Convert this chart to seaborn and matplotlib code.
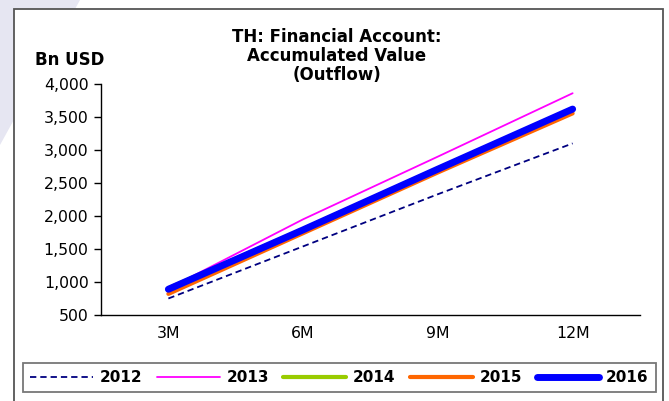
import matplotlib
matplotlib.use("Agg")
import matplotlib.pyplot as plt
import matplotlib.patches as mpatches
import seaborn as sns
import pandas as pd

# Accumulated financial-account outflow, Bn USD
periods = ["3M", "6M", "9M", "12M"]
y2012 = [750, 1540, 2330, 3100]
y2013 = [900, 1950, 2900, 3860]
y2014 = [905, 1800, 2720, 3610]
y2015 = [820, 1740, 2660, 3555]
y2016 = [890, 1790, 2710, 3620]
years = ["2012", "2013", "2014", "2015", "2016"]
yticks = [500, 1000, 1500, 2000, 2500, 3000, 3500, 4000]

series = {"2012": y2012, "2013": y2013, "2014": y2014, "2015": y2015, "2016": y2016}
rows = []
for yr in years:
    for i, (p, v) in enumerate(zip(periods, series[yr])):
        rows.append({"year": yr, "pos": i, "period": p, "value": v})
df = pd.DataFrame(rows)

styles = {
    "2012": dict(color="#000080", lw=1.3, ls=(0, (3.5, 2.2))),
    "2013": dict(color="#ff00ff", lw=1.3, ls="-"),
    "2014": dict(color="#99cc00", lw=3.0, ls="-"),
    "2015": dict(color="#ff6600", lw=3.0, ls="-"),
    "2016": dict(color="#0000ff", lw=5.0, ls="-"),
}

sns.set_style("white")
plt.rcParams["font.family"] = ["DejaVu Sans"]
plt.rcParams["text.color"] = "black"
plt.rcParams["axes.labelcolor"] = "black"
plt.rcParams["xtick.color"] = "black"
plt.rcParams["ytick.color"] = "black"

fig = plt.figure(figsize=(6.69, 4.01), dpi=100)
fig.patch.set_facecolor("white")

# slide backdrop and chart frame
fig.patches.append(mpatches.Polygon([(0, 1), (80 / 669, 1), (0, 1 - 145 / 401)],
                                    closed=True, transform=fig.transFigure,
                                    facecolor="#e6e6f2", edgecolor="none", zorder=0))
fig.patches.append(mpatches.Rectangle((13.5 / 669, -0.05), (663 - 13.5) / 669, 1 - 8.5 / 401 + 0.05,
                                      transform=fig.transFigure, facecolor="white",
                                      edgecolor="#555555", linewidth=1.3, zorder=1))

ax = fig.add_axes([101 / 669, 1 - 315 / 401, (640 - 101) / 669, (315 - 84) / 401])
ax.set_facecolor("none")
ax.set_zorder(2)

for yr in years:
    st = styles[yr]
    sub = df[df["year"] == yr]
    sns.lineplot(data=sub, x="pos", y="value", ax=ax, color=st["color"],
                 linewidth=st["lw"], label=yr, legend=False)
    line = ax.lines[-1]
    line.set_linestyle(st["ls"])
    line.set_solid_capstyle("round")
    line.set_dash_capstyle("butt")

ax.set_xlim(-0.5, len(periods) - 0.5)
ax.set_ylim(500, 4000)
ax.set_yticks(yticks)
ax.set_yticklabels([f"{v:,}" for v in yticks], fontsize=11.3)
ax.set_xticks([i - 0.5 for i in range(len(periods) + 1)])
ax.set_xticklabels([])
ax.set_xticks(range(len(periods)), minor=True)
ax.set_xticklabels(periods, minor=True, fontsize=11.3)
ax.tick_params(axis="x", which="major", direction="out", length=5, width=1, color="black")
ax.tick_params(axis="x", which="minor", length=0, pad=8)
ax.tick_params(axis="y", direction="out", length=5, width=1, color="black", pad=4, left=True)
ax.set_xlabel("")
ax.set_ylabel("")
for s in ["top", "right"]:
    ax.spines[s].set_visible(False)
for s in ["left", "bottom"]:
    ax.spines[s].set_color("black")
    ax.spines[s].set_linewidth(1.0)

fig.text(337 / 669, 1 - 56 / 401, "TH: Financial Account:\nAccumulated Value\n(Outflow)",
         ha="center", va="center", fontsize=12, fontweight="bold", linespacing=1.1,
         color="black")
fig.text(35 / 669, 1 - 60 / 401, "Bn USD", ha="left", va="center",
         fontsize=12, fontweight="bold", color="black")

handles = ax.lines[:len(years)]
leg = fig.legend(handles, years, loc="center", ncol=5,
                 bbox_to_anchor=(339.5 / 669, 1 - 377.5 / 401),
                 prop={"weight": "bold", "size": 11}, frameon=True, fancybox=False,
                 handlelength=4.1, handletextpad=0.45, columnspacing=0.95,
                 borderpad=0.45, borderaxespad=0)
leg.get_frame().set_edgecolor("#555555")
leg.get_frame().set_linewidth(1.3)
leg.set_zorder(3)
for t in leg.get_texts():
    t.set_color("black")

fig.savefig("out.png", dpi=100)
